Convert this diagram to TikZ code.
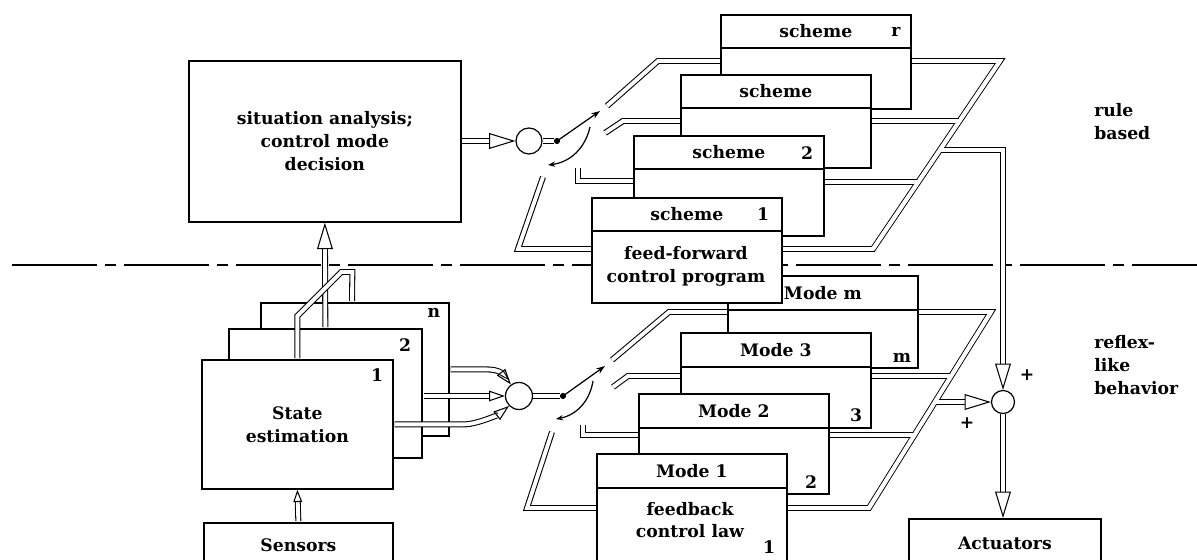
\documentclass[tikz,border=0pt]{standalone}
\usepackage{fontspec}
\setmainfont{DejaVu Serif}
\usetikzlibrary{arrows.meta, positioning, backgrounds}
\tikzset{
    block/.style={draw, line width=1pt, fill=white, inner sep=0pt, align=center, anchor=north west, font=\fontsize{9.8}{13}\selectfont\bfseries},
    card/.style={draw, line width=1pt, fill=white, inner sep=0pt, minimum width=3.8cm, anchor=north west},
    cardhead/.style={card, minimum height=0.66cm, font=\fontsize{9.8}{13}\selectfont\bfseries},
    lbl/.style={inner sep=0pt, font=\fontsize{9.8}{13}\selectfont\bfseries},
    pipe/.style={double=white, double distance=2.2pt, line width=0.6pt},
    pipearr/.style={pipe, -{Triangle[open, length=15pt, width=9pt]}},
    smallarr/.style={pipe, -{Triangle[open, length=9pt, width=6pt]}},
    sum/.style={circle, draw, line width=0.7pt, fill=white, inner sep=0pt},
    pivot/.style={circle, fill, inner sep=0pt, minimum size=3.5pt},
    arm/.style={line width=0.7pt, -{Stealth[length=5pt, width=3.5pt]}},
    turn/.style={line width=0.7pt, -{Stealth[length=4pt, width=3pt]}},
    sep/.style={line width=1.1pt, dash pattern=on 1.7cm off 0.16cm on 0.22cm off 0.16cm}
}

\begin{document}
\begin{tikzpicture}[x=0.02cm, y=-0.02cm]
    \useasboundingbox (0,0) rectangle (1197,560);
    \clip (0,0) rectangle (1197,560);

    % decision level
    \node[block, minimum width=5.44cm, minimum height=3.22cm] (sit) at (188,60) {situation analysis;\\control mode\\decision};

    % state estimation stack and I/O
    \node[block, minimum width=3.76cm, minimum height=2.66cm] (estn) at (260,302) {};
    \node[block, minimum width=3.86cm, minimum height=2.58cm] (est2) at (228,328) {};
    \node[block, minimum width=3.82cm, minimum height=2.58cm] (est1) at (201,359) {State\\estimation};
    \node[lbl] (estnn) at (434,313) {n};
    \node[lbl] (est2n) at (405,345) {2};
    \node[lbl] (est1n) at (377,375) {1};
    \node[block, minimum width=3.78cm, minimum height=0.88cm] (sens) at (203,522) {Sensors};
    \node[block, minimum width=3.84cm, minimum height=0.96cm] (act) at (908,518) {Actuators};

    % feedback modes (back to front)
    \node[card, minimum height=1.84cm] (modem) at (727,275) {};
    \node[cardhead, minimum height=0.68cm] (modemh) at (modem.north west) {Mode m};
    \node[card, minimum height=1.9cm] (mode3) at (680,332) {};
    \node[cardhead, minimum height=0.68cm] (mode3h) at (mode3.north west) {Mode 3};
    \node[card, minimum height=2.0cm] (mode2) at (638,393) {};
    \node[cardhead, minimum height=0.68cm] (mode2h) at (mode2.north west) {Mode 2};
    \node[card, minimum height=2.6cm] (mode1) at (596,453) {};
    \node[cardhead, minimum height=0.68cm] (mode1h) at (mode1.north west) {Mode 1};
    \node[lbl, align=center] (fblaw) at (690,520) {feedback\\control law};
    \node[lbl] (modemn) at (902,358) {m};
    \node[lbl] (mode3n) at (856,415) {3};
    \node[lbl] (mode2n) at (811,482) {2};
    \node[lbl] (mode1n) at (769,547) {1};

    % feed-forward schemes (back to front)
    \node[card, minimum height=1.88cm] (schr) at (720,14) {};
    \node[cardhead] (schrh) at (schr.north west) {scheme};
    \node[card, minimum height=1.86cm] (sch3) at (680,74) {};
    \node[cardhead] (sch3h) at (sch3.north west) {scheme};
    \node[card, minimum height=2.0cm] (sch2) at (633,135) {};
    \node[cardhead] (sch2h) at (sch2.north west) {scheme};
    \node[card, minimum height=2.1cm] (sch1) at (591,197) {};
    \node[cardhead] (sch1h) at (sch1.north west) {scheme};
    \node[lbl, align=center] (ffprog) at (686,266) {feed-forward\\control program};
    \node[lbl] (schrn) at (896,32) {r};
    \node[lbl] (sch2n) at (807,153) {2};
    \node[lbl] (sch1n) at (763,214) {1};

    % junctions and switches
    \node[sum, minimum size=0.52cm] (ctop) at (529,141) {};
    \node[sum, minimum size=0.54cm] (cbot) at (519,396) {};
    \node[sum, minimum size=0.46cm] (csum) at (1003,402) {};
    \node[pivot] (pvtop) at (557,141) {};
    \node[pivot] (pvbot) at (563,396) {};
    \coordinate (armT) at (600,111);
    \coordinate (arcTa) at (590,127);
    \coordinate (arcTb) at (548,165);
    \coordinate (armB) at (605,366);
    \coordinate (arcBa) at (593,381);
    \coordinate (arcBb) at (556,419);

    % switch contacts
    \coordinate (t1) at (607,106);
    \coordinate (t2) at (605,133);
    \coordinate (t3) at (578,168);
    \coordinate (t4) at (543,177);
    \coordinate (b1) at (612,360);
    \coordinate (b2) at (613,387);
    \coordinate (b3) at (583,425);
    \coordinate (b4) at (552,432);

    % output buses and their branch points
    \coordinate (busTa) at (1000,61);
    \coordinate (busTb) at (873,249);
    \coordinate (jT3) at (959.5,121);
    \coordinate (jT2) at (918.3,182);
    \coordinate (jTo) at (939.9,150);
    \coordinate (busBa) at (991,312);
    \coordinate (busBb) at (869,508);
    \coordinate (jB3) at (951.6,376);
    \coordinate (jB2) at (914.7,435);
    \coordinate (jBo) at (935.3,402);

    \coordinate (sepL) at (12,265);
    \coordinate (sepR) at (1197,265);

    \begin{scope}[on background layer]
        % level separator
        \draw[sep] (sepL) -- (sepR);

        % schemes to the summing point
        \draw[pipe] (schr.east |- busTa) -- (busTa) -- (busTb) -- (sch1.east |- busTb);
        \draw[pipe] (sch3.east |- jT3) -- (jT3);
        \draw[pipe] (sch2.east |- jT2) -- (jT2);
        \draw[pipearr] (jTo) -- (csum.north |- jTo) -- (csum.north);
        \draw[white, line width=2.2pt] (busTa) -- (busTb);

        % modes to the summing point
        \draw[pipe] (modem.east |- busBa) -- (busBa) -- (busBb) -- (mode1.east |- busBb);
        \draw[pipe] (mode3.east |- jB3) -- (jB3);
        \draw[pipe] (mode2.east |- jB2) -- (jB2);
        \draw[pipearr] (jBo) -- (csum.west);
        \draw[white, line width=2.2pt] (busBa) -- (busBb);
        \draw[pipearr] (csum.south) -- (csum.south |- act.north);

        % schemes back to the upper switch
        \draw[pipe] (schr.west |- 0,61) -- (658,61) -- (t1);
        \draw[pipe] (sch3.west |- 0,121) -- (623,121) -- (t2);
        \draw[pipe] (sch2.west |- 0,181) -- (t3 |- 0,181) -- (t3);
        \draw[pipe] (sch1.west |- 0,249) -- (518,249) -- (t4);

        % modes back to the lower switch
        \draw[pipe] (modem.west |- 0,312) -- (669,312) -- (b1);
        \draw[pipe] (mode3.west |- 0,376) -- (628,376) -- (b2);
        \draw[pipe] (mode2.west |- 0,435) -- (b3 |- 0,435) -- (b3);
        \draw[pipe] (mode1.west |- 0,508) -- (527,508) -- (b4);

        % decision to the upper switch
        \draw[pipearr] (sit.east |- ctop) -- (ctop.west);
        \draw[pipe] (ctop.east) -- (pvtop);
        \draw[pipe] (cbot.east) -- (pvbot);
    \end{scope}

    % switch arms
    \draw[arm] (pvtop.center) -- (armT);
    \draw[turn] (arcTa) to[bend left=35] (arcTb);
    \draw[arm] (pvbot.center) -- (armB);
    \draw[turn] (arcBa) to[bend left=35] (arcBb);

    % estimates up and across
    \draw[pipearr, shorten <=0.5pt] (est2.north) -- (sit.south);
    \draw[pipe, shorten <=0.5pt, shorten >=0.5pt] (est1.north) -- ++(0,-43) -- ++(44,-44) -- ++(11,0) -- (352,0 |- estn.north);
    \draw[smallarr, shorten <=0.5pt] (estn.east) -- ++(36,0) .. controls +(14,0) and +(-8,-10) .. (cbot.125);
    \draw[smallarr, shorten <=0.5pt] (est2.east |- cbot) -- (cbot.west);
    \draw[smallarr, shorten <=0.5pt] (est1.east) -- ++(70,0) .. controls +(14,0) and +(-10,8) .. (cbot.225);
    \draw[smallarr, -{Triangle[open, length=7pt, width=5pt]}, shorten <=0.5pt] (sens.north) -- (est1.south);

    % signs and level names
    \node[lbl] (plusA) at (1027,375) {+};
    \node[lbl] (plusB) at (967,423) {+};
    \node[lbl, align=left, anchor=west] (rulebased) at (1094,122) {rule\\based};
    \node[lbl, align=left, anchor=west] (reflex) at (1094,365) {reflex-\\like\\behavior};
\end{tikzpicture}
\end{document}
